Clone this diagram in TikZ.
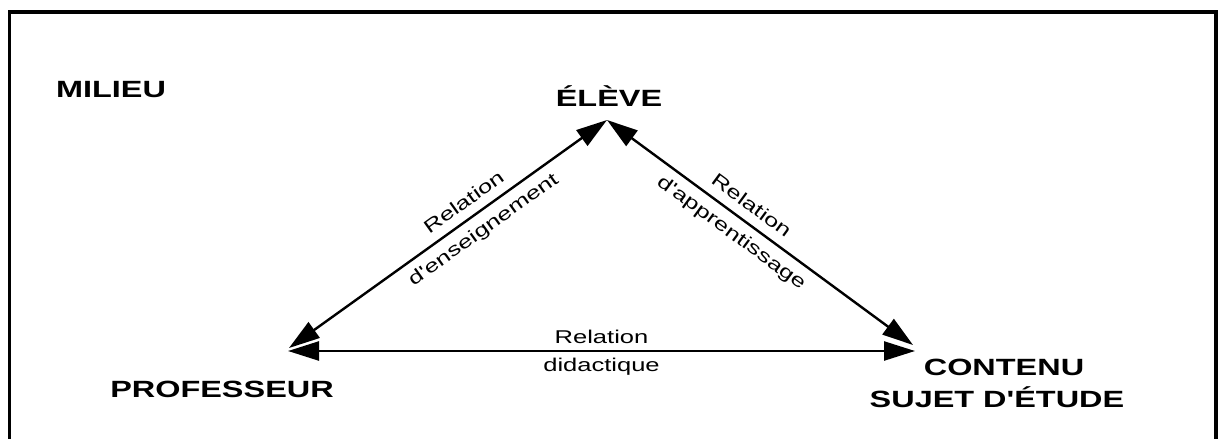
\documentclass[tikz,border=0pt]{standalone}
\usepackage{fontspec}
\newfontfamily\helv{Liberation Sans}
\usetikzlibrary{arrows.meta}
\begin{document}
\begin{tikzpicture}[x=1pt,y=-1pt,>={Triangle[length=31pt,width=19pt]},
    wide/.style={xscale=1.38,transform shape},
    pole/.style={wide,anchor=base,inner sep=0pt,font=\helv\fontsize{23.5}{27}\selectfont\bfseries},
    rel/.style={wide,inner sep=1pt,font=\helv\fontsize{18.5}{22}\selectfont},
    link/.style={<->,line width=2.4pt}]
    \useasboundingbox (0,0) rectangle (1218,439);
    % cadre
    \draw[line width=3.5pt] (9.5,445) -- (9.5,12) -- (1216,12) -- (1216,445);
    % poles
    \node[pole] (milieu) at (111,97) {MILIEU};
    \node[pole] (eleve) at (609,106) {ÉLÈVE};
    \node[pole] (prof) at (222,397) {PROFESSEUR};
    \node[pole] (contenu) at (1004,375) {CONTENU};
    \node[pole] (sujet) at (997,407) {SUJET D'ÉTUDE};
    \coordinate (apex) at (607,120);
    \coordinate (profd) at (289,348);
    \coordinate (profh) at (288,351);
    \coordinate (contd) at (913,345);
    \coordinate (conth) at (915,351);
    % relations
    \draw[link] (profd) -- node[rotate=35.6,rel,above=8pt,pos=0.58] {Relation}
        node[rotate=35.6,rel,below=7pt,pos=0.58] {d'enseignement} (apex);
    \draw[link] (apex) -- node[rotate=-36.3,rel,above=8pt,pos=0.44] {Relation}
        node[rotate=-36.3,rel,below=7pt,pos=0.44] {d'apprentissage} (contd);
    \draw[link] (profh) -- node[rel,above=5pt] {Relation}
        node[rel,below=5pt] {didactique} (conth);
\end{tikzpicture}
\end{document}
